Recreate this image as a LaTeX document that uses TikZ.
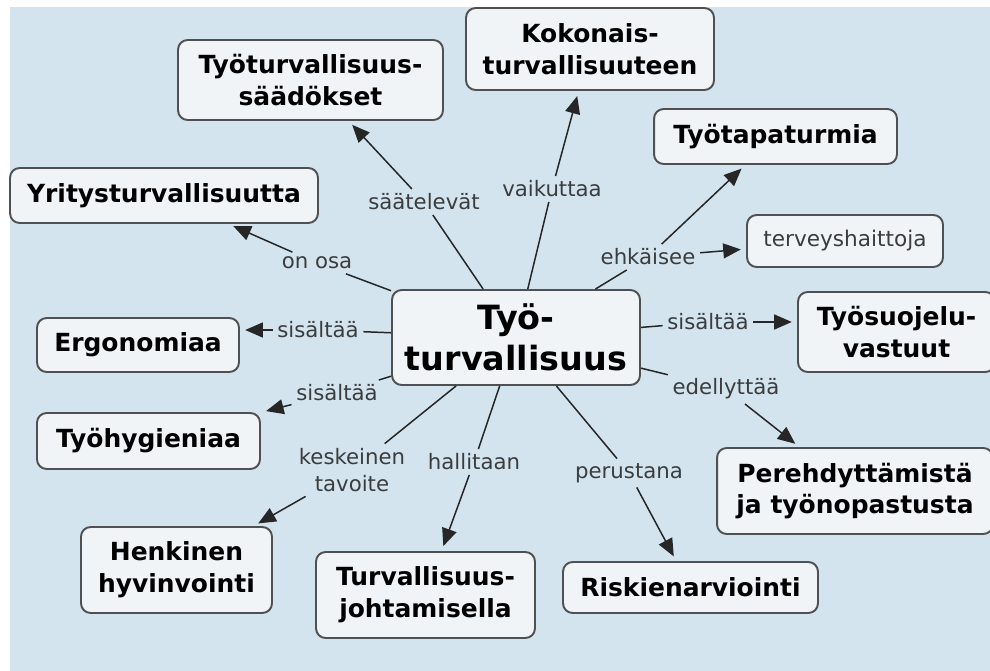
\documentclass[tikz,border=0pt]{standalone}
\usepackage{fontspec}
\setmainfont{DejaVu Sans}
\usetikzlibrary{arrows.meta}
\definecolor{bgblue}{RGB}{211,228,238}
\definecolor{boxfill}{RGB}{240,244,247}
\definecolor{boxline}{RGB}{78,80,82}
\definecolor{labgray}{RGB}{58,60,62}

\begin{document}
\begin{tikzpicture}[x=0.02cm, y=-0.02cm,
  concept/.style={draw=boxline, line width=1.1pt, fill=boxfill, rounded corners=5.5pt, align=center, inner sep=2pt, text=black, font=\fontsize{14.2}{18}\selectfont\bfseries},
  linkword/.style={text=labgray, inner sep=2.5pt, align=center, font=\fontsize{12.1}{15.3}\selectfont},
  link/.style={draw=black!85, line width=0.85pt},
  arr/.style={link, -{Triangle[length=10pt, width=8.5pt]}, shorten >=3pt}]
  \useasboundingbox (0,0) rectangle (990,671);
  \clip (0,0) rectangle (990,671);
  \fill[bgblue] (10,7) rectangle (990,671);

  \node[concept, font=\fontsize{19}{23}\selectfont\bfseries, minimum width=4.96cm, minimum height=1.90cm] (ctr) at (516,337.5) {Työ-\\turvallisuus};

  \node[concept, minimum width=5.30cm, minimum height=1.60cm] (saadokset) at (310.5,80) {Työturvallisuus-\\säädökset};
  \node[concept, minimum width=4.96cm, minimum height=1.64cm] (kokonais) at (590,49) {Kokonais-\\turvallisuuteen};
  \node[concept, minimum width=4.86cm, minimum height=1.10cm] (tapaturmia) at (775.5,136.5) {Työtapaturmia};
  \node[concept, font=\fontsize{12.3}{15}\selectfont, text=labgray, minimum width=3.92cm, minimum height=1.04cm] (terveys) at (845,241) {terveyshaittoja};
  \node[concept, minimum width=6.16cm, minimum height=1.10cm] (yritys) at (164,195.5) {Yritysturvallisuutta};
  \node[concept, minimum width=4.04cm, minimum height=1.08cm] (ergo) at (138,345) {Ergonomiaa};
  \node[concept, minimum width=4.46cm, minimum height=1.12cm] (hygienia) at (148.5,441) {Työhygieniaa};
  \node[concept, minimum width=3.82cm, minimum height=1.72cm] (henkinen) at (176.5,570) {Henkinen\\hyvinvointi};
  \node[concept, minimum width=4.38cm, minimum height=1.72cm] (johtaminen) at (425.5,595) {Turvallisuus-\\johtamisella};
  \node[concept, minimum width=5.10cm, minimum height=1.02cm] (riski) at (690.5,587.5) {Riskienarviointi};
  \node[concept, minimum width=5.52cm, minimum height=1.72cm] (pereh) at (855,491) {Perehdyttämistä\\ja työnopastusta};
  \node[concept, minimum width=3.94cm, minimum height=1.60cm] (tsuojelu) at (896.5,332) {Työsuojelu-\\vastuut};

  \node[linkword] (saat) at (424,202) {säätelevät};
  \node[linkword] (vaik) at (552,189) {vaikuttaa};
  \node[linkword] (ehk) at (648,257) {ehkäisee};
  \node[linkword] (sisr) at (708,322) {sisältää};
  \node[linkword] (edel) at (726,389) {edellyttää};
  \node[linkword] (peru) at (629,473) {perustana};
  \node[linkword] (hall) at (474,462) {hallitaan};
  \node[linkword] (kesk) at (352,470) {keskeinen\\tavoite};
  \node[linkword] (sisa) at (337,393) {sisältää};
  \node[linkword] (sisl) at (318,330) {sisältää};
  \node[linkword] (osa) at (317,263) {on osa};

  \draw[link] (ctr) -- (saat);
  \draw[arr] (saat) -- (saadokset);
  \draw[link] (ctr) -- (vaik);
  \draw[arr] (vaik) -- (kokonais);
  \draw[link] (ctr) -- (ehk);
  \draw[arr] (ehk) -- (tapaturmia);
  \draw[arr] (ehk) -- (terveys);
  \draw[link] (ctr) -- (sisr);
  \draw[arr] (sisr) -- (sisr -| tsuojelu.west);
  \draw[link] (ctr) -- (edel);
  \draw[arr] (edel) -- (pereh);
  \draw[link] (ctr) -- (peru);
  \draw[arr] (peru) -- (riski);
  \draw[link] (ctr) -- (hall);
  \draw[arr] (hall) -- (johtaminen);
  \draw[link] (ctr) -- (kesk);
  \draw[arr] (kesk) -- (henkinen);
  \draw[link] (ctr) -- (sisa);
  \draw[arr] (sisa) -- (hygienia);
  \draw[link] (ctr) -- (sisl);
  \draw[arr] (sisl) -- (sisl -| ergo.east);
  \draw[link] (ctr) -- (osa);
  \draw[arr] (osa) -- (yritys);
\end{tikzpicture}
\end{document}
